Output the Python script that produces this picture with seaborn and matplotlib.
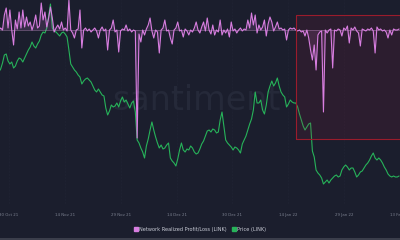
import numpy as np
import pandas as pd
import matplotlib
matplotlib.use('Agg')
import matplotlib.pyplot as plt
import seaborn as sns
from matplotlib.patches import Rectangle
from matplotlib.lines import Line2D

# LINK price (USD), 12-hourly
price = [27.36, 27.72, 28.44, 29.40, 29.52, 28.68, 28.32, 28.56, 27.84, 28.08,
         28.68, 29.04, 28.92, 28.56, 29.04, 29.52, 30.00, 30.36, 30.96, 30.48,
         30.24, 30.72, 31.08, 31.80, 32.16, 32.04, 32.64, 34.08, 35.52, 32.64,
         32.28, 32.16, 31.92, 31.68, 32.04, 32.16, 31.92, 31.56, 30.00, 28.32,
         27.96, 27.60, 27.36, 27.00, 26.76, 25.92, 26.28, 26.52, 26.64, 26.40,
         26.16, 25.68, 25.20, 24.96, 25.32, 24.96, 24.60, 24.48, 23.04, 22.20,
         22.68, 23.40, 23.16, 23.28, 23.64, 23.16, 23.88, 24.36, 23.76, 24.00,
         23.52, 23.04, 23.64, 23.88, 22.56, 19.20, 18.84, 18.24, 17.76, 17.04,
         18.48, 19.32, 20.40, 21.36, 20.40, 19.56, 18.84, 18.24, 18.60, 18.12,
         18.24, 18.60, 18.84, 17.04, 16.68, 16.44, 16.08, 16.92, 18.00, 18.84,
         18.00, 17.76, 18.12, 18.00, 18.48, 18.24, 17.76, 17.52, 17.64, 18.12,
         18.72, 19.08, 19.68, 20.28, 20.40, 20.16, 20.52, 20.40, 20.04, 20.16,
         21.60, 22.56, 20.88, 19.20, 18.84, 18.60, 18.36, 18.00, 18.36, 18.24,
         18.00, 17.64, 18.72, 19.20, 19.68, 20.40, 21.12, 21.72, 22.80, 24.96,
         23.64, 23.64, 24.00, 22.80, 22.32, 23.40, 24.96, 25.68, 26.28, 25.68,
         26.04, 26.64, 25.68, 24.96, 24.60, 24.36, 23.16, 23.52, 24.00, 23.76,
         23.64, 23.64, 23.16, 22.32, 21.60, 20.88, 20.40, 20.76, 21.12, 21.24,
         17.88, 17.16, 15.60, 15.24, 15.00, 14.64, 13.92, 14.16, 14.40, 14.04,
         14.40, 14.64, 14.88, 15.00, 14.76, 14.88, 15.60, 15.96, 16.20, 15.96,
         15.60, 15.84, 15.84, 15.36, 14.76, 15.00, 15.36, 15.48, 15.84, 16.20,
         16.44, 16.80, 17.28, 17.64, 17.04, 16.80, 17.04, 16.80, 16.44, 15.96,
         15.60, 15.12, 14.88, 14.76, 14.88, 14.76, 14.76, 14.88]

# Network realized profit/loss (USD millions), 12-hourly
pnl = [0, 4, 0, 30, 44, 4, 40, 0, -30, 20,
       2, 36, 4, 40, 6, 26, 8, 16, 0, 12,
       30, 4, 8, 54, 20, 36, 6, 24, 46, 24,
       -4, 4, 10, 2, 16, 0, 4, -2, 60, 0,
       -6, -16, 0, 2, 40, -36, 0, 4, -2, 2,
       -4, 0, 4, -2, -16, 0, 6, -2, 2, -40,
       0, 4, 20, -4, 0, -44, -2, 2, 0, 10,
       -2, 2, -4, 0, -2, -216, -8, -24, 0, -10,
       2, 10, 24, -2, -16, 0, -4, -46, 0, 4,
       20, -2, 0, -16, -28, 0, 4, 16, -2, 0,
       -14, 2, -2, -10, 0, -4, 4, 16, 0, -6,
       6, 16, -2, 24, 0, -8, 10, -10, 0, -4,
       20, -10, 0, -6, 2, -14, 16, -2, 2, -6,
       0, 4, -2, 2, 0, 20, 4, 34, 10, 30,
       -6, 10, 0, 6, 20, -12, 12, 26, 16, -2,
       6, 16, 2, 4, 0, 2, -20, 0, 4, 2,
       4, 0, -2, 0, -4, -2, -12, 0, -16, -40,
       -60, -30, -80, -10, -4, -2, -164, 0, -6, 0,
       2, -76, 0, -2, 2, 0, -12, 4, 0, 8,
       -26, 4, 0, 6, -2, -6, -32, 2, 0, -2,
       2, 0, 4, -2, -46, 6, 0, 2, -2, 0,
       -4, -16, 0, -10, 2, 0, 0, 2]

tick_labels = ['30 Oct 21', '14 Nov 21', '29 Nov 21', '14 Dec 21',
               '30 Dec 21', '14 Jan 22', '29 Jan 22', '13 Feb 22']
series_names = ['Network Realized Profit/Loss (LINK)', 'Price (LINK)']

BG = '#1b1e2d'
PINK = '#d87ee0'
GREEN = '#27b35a'

sns.set_theme(style='dark')
plt.rcParams['font.family'] = ['DejaVu Sans']

df_price = pd.DataFrame({'date': pd.date_range('2021-10-27 06:00', periods=len(price), freq='12h'),
                         'value': price})
df_pnl = pd.DataFrame({'date': pd.date_range('2021-10-27 06:00', periods=len(pnl), freq='12h'),
                       'value': pnl})

fig = plt.figure(figsize=(4, 2.4), dpi=100, facecolor=BG)
ax = fig.add_axes([0, 35/240, 1, 205/240])
ax.set_facecolor(BG)

# watermark
ax.text(0.49, 0.51, 'santiment', transform=ax.transAxes, ha='center', va='center',
        fontsize=24, color='#252939', zorder=0)

sns.lineplot(data=df_price, x='date', y='value', ax=ax, color=GREEN, lw=0.8, zorder=3)
ax.set_ylim(11.4, 36)

ax2 = ax.twinx()
ax2.set_facecolor('none')
ax2.axhline(0, color='#b98abf', lw=0.6, alpha=0.5, zorder=2)
ax2.fill_between(df_pnl['date'], 0, df_pnl['value'], color=PINK, alpha=0.15, lw=0)
sns.lineplot(data=df_pnl, x='date', y='value', ax=ax2, color=PINK, lw=0.8, zorder=4)
ax2.set_ylim(-350, 60)

start = pd.Timestamp('2021-10-30')
step = pd.Timedelta(days=106/7)
ticks = [start + k*step for k in range(len(tick_labels))]
x0 = start - pd.Timedelta(days=2.43)
x1 = x0 + pd.Timedelta(days=400/3.70)
for a in (ax, ax2):
    a.set_xlim(x0, x1)
    a.set_yticks([])
    a.set_ylabel('')
    a.set_xlabel('')
    for s in a.spines.values():
        s.set_visible(False)
ax.set_xticks(ticks)
ax.set_xticklabels(tick_labels, fontsize=2.8, color='#7d8291')
ax.tick_params(axis='x', length=0, pad=6)
ax2.tick_params(axis='x', length=0, labelbottom=False)
ax.grid(axis='x', color='#262a3a', lw=0.4, ls=':')

# highlight box
ax2.add_patch(Rectangle((0.74, 0.322), 0.3, 0.605, transform=ax2.transAxes,
                        facecolor='#8a1a3a', alpha=0.16, edgecolor='none', zorder=1))
ax2.add_patch(Rectangle((0.74, 0.322), 0.3, 0.605, transform=ax2.transAxes,
                        facecolor='none', edgecolor='#9a1c2c', lw=0.8, zorder=5))

handles = [Line2D([], [], marker='s', ls='none', color=PINK, markersize=2.6),
           Line2D([], [], marker='s', ls='none', color=GREEN, markersize=2.6)]
fig.legend(handles, series_names, loc='center', bbox_to_anchor=(0.5, 1 - 229/240), ncol=2,
           frameon=False, fontsize=3.6, labelcolor='#c9ccd6', handlelength=0.6,
           handletextpad=0.3, columnspacing=1.2)

fig.patches.append(Rectangle((0, 0), 1, 2/240, transform=fig.transFigure,
                             facecolor='#3b3e4b', edgecolor='none'))

fig.savefig('out.png', dpi=100, facecolor=BG)
